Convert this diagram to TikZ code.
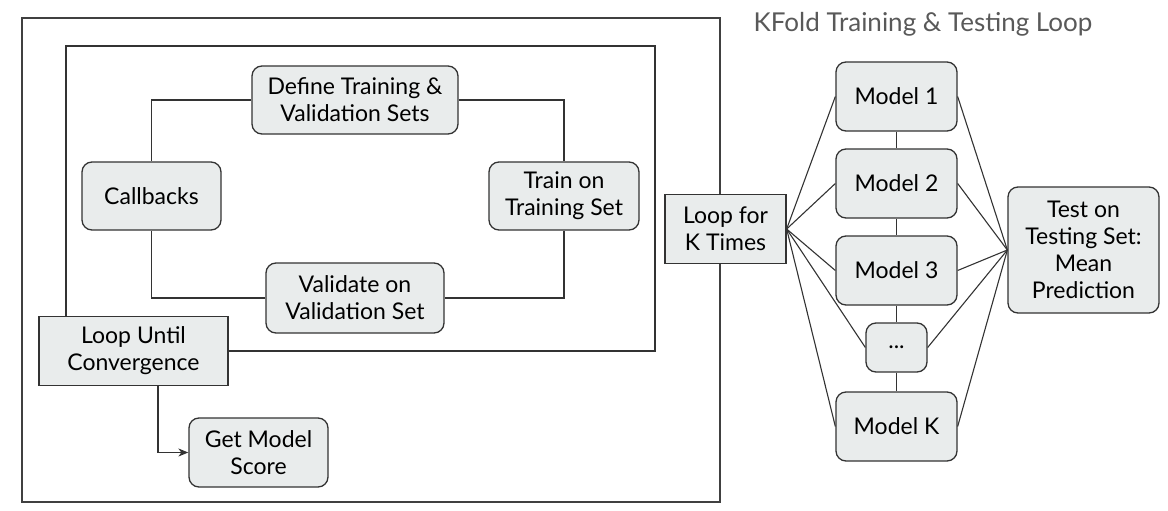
\documentclass[tikz,border=0pt]{standalone}
\usepackage{fontspec}
\setmainfont{Lato}
\usetikzlibrary{arrows.meta}

\definecolor{boxfill}{HTML}{E9ECEC}
\definecolor{boxline}{HTML}{333333}
\definecolor{titlegray}{HTML}{595959}

\tikzset{
  stage/.style={draw=boxline, fill=boxfill, rounded corners=10pt, line width=1.3pt,
                align=center, inner sep=0pt, font=\fontsize{23}{27}\selectfont},
  plainstage/.style={stage, rounded corners=0pt},
  wire/.style={draw=boxline, line width=1.1pt}
}

\begin{document}
\begin{tikzpicture}[x=1pt, y=-1pt]
  \useasboundingbox (0,0) rectangle (1168,511);

  % inner training loop
  \node[stage, minimum width=206pt, minimum height=68pt] (define) at (355,100) {Define Training \&\\Validation Sets};
  \node[stage, minimum width=139pt, minimum height=68pt] (callbacks) at (151.5,196) {Callbacks};
  \node[stage, minimum width=150pt, minimum height=68pt] (train) at (564,196) {Train on\\Training Set};
  \node[stage, minimum width=178pt, minimum height=70pt] (validate) at (355,298) {Validate on\\Validation Set};

  \draw[wire] (callbacks.north) |- (define.west);
  \draw[wire] (define.east) -| (train.north);
  \draw[wire] (train.south) |- (validate.east);
  \draw[wire] (validate.west) -| (callbacks.south);

  % frames
  \coordinate (inNE) at (655,46);
  \coordinate (outNW) at (22,18);
  \coordinate (outSE) at (720,502);
  \draw[wire] (66,340) -- (66,46) -- (inNE) |- (200,351);
  \draw[wire, draw=black!75, line width=1.3pt] (720,229) |- (outNW) |- (outSE) -- (720,229);

  \node[plainstage, minimum width=189pt, minimum height=69pt] (conv) at (133.5,351) {Loop Until\\Convergence};
  \node[stage, minimum width=139pt, minimum height=69pt] (score) at (258.5,452.5) {Get Model\\Score};
  \draw[wire, -{Stealth[length=10pt, width=8pt, inset=3pt]}] ([xshift=24.5pt]conv.south) |- (score.west);

  % kfold part
  \node[font=\fontsize{26}{30}\selectfont, text=titlegray] (title) at (923,24) {KFold Training \& Testing Loop};
  \node[plainstage, minimum width=121pt, minimum height=69pt] (loopk) at (725.5,229) {Loop for\\K Times};

  \node[stage, minimum width=121pt, minimum height=69pt] (m1) at (896.5,96.5) {Model 1};
  \node[stage, minimum width=121pt, minimum height=69pt] (m2) at (896.5,183.5) {Model 2};
  \node[stage, minimum width=121pt, minimum height=69pt] (m3) at (896.5,270.5) {Model 3};
  \node[stage, minimum width=61pt, minimum height=49pt] (dots) at (896.5,347.5) {...};
  \node[stage, minimum width=121pt, minimum height=69pt] (mk) at (896.5,426.5) {Model K};
  \node[stage, minimum width=151pt, minimum height=126pt] (test) at (1083.5,250) {Test on\\Testing Set:\\Mean\\Prediction};

  \foreach \i/\j in {m1/m2, m2/m3, m3/dots, dots/mk} {
    \draw[wire] (\i.south) -- (\j.north);
  }
  \foreach \m in {m1, m2, m3, dots, mk} {
    \draw[wire] (loopk.east) -- (\m.west);
    \draw[wire] (\m.east) -- (test.west);
  }
\end{tikzpicture}
\end{document}
